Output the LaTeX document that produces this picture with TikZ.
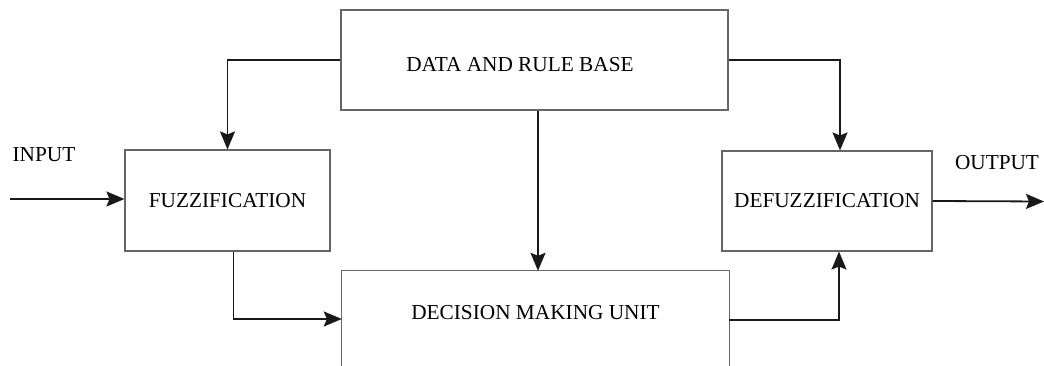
\documentclass[tikz,border=0pt]{standalone}
\usepackage{fontspec}
\setmainfont{Liberation Serif}
\usetikzlibrary{arrows.meta}
\tikzset{
    block/.style={draw=black!60, line width=1.1pt, inner sep=0pt, font=\fontsize{21.3}{25}\selectfont},
    tag/.style={inner sep=0pt, font=\fontsize{21.3}{25}\selectfont},
    flow/.style={line width=1.8pt, black!90, -{Stealth[length=18pt,width=15pt,inset=3pt]}},
}

\begin{document}
\begin{tikzpicture}[x=1pt,y=-1pt]
    \useasboundingbox (0,0) rectangle (1044,366);
    \clip (0,0) rectangle (1044,366);

    \node[block, minimum width=387, minimum height=100, text height=24pt, text depth=0pt] (data) at (534.5,60) {\hspace*{-29pt}DATA AND RULE BASE};
    \node[block, minimum width=205, minimum height=101] (fuzz) at (227.5,200.5) {FUZZIFICATION};
    \node[block, minimum width=210, minimum height=100] (defuzz) at (827,201) {DEFUZZIFICATION};
    % decision unit runs off the bottom edge
    \node[tag, minimum width=387, minimum height=84] (dmu) at (535.5,313) {DECISION MAKING UNIT};
    \coordinate (bottom) at (0,380);
    \draw[black!60, line width=1.1pt] (dmu.north west |- bottom) -- (dmu.north west) -- (dmu.north east) -- (dmu.north east |- bottom);

    \node[tag] (input) at (44,155) {INPUT};
    \node[tag] (output) at (997,163) {OUTPUT};
    \coordinate (in) at (10,199);
    \coordinate (out) at (1044,201.5);

    \draw[flow] (in) -- (fuzz.west |- in);
    \draw[flow] (data.west) -| (fuzz.north);
    \draw[flow] (data.east) -| ([xshift=13pt]defuzz.north);
    \draw[flow] ([xshift=2.5pt]dmu.north |- data.south) -- ([xshift=2.5pt]dmu.north);
    \draw[flow] ([xshift=6pt]fuzz.south) |- ([yshift=-6pt]dmu.west);
    \draw[flow] ([yshift=-7pt]dmu.east) -| ([xshift=12pt]defuzz.south);
    \draw[flow] (defuzz.east) -- (out);
\end{tikzpicture}
\end{document}
